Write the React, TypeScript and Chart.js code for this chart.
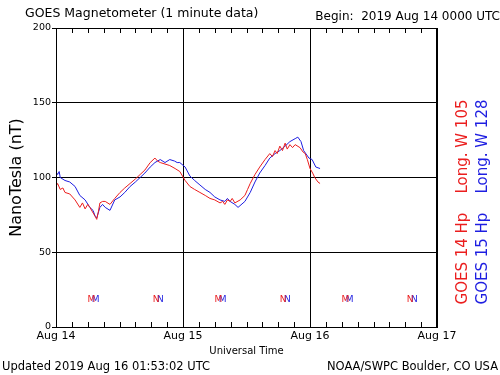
import React, { useEffect, useRef } from "react";
import { Chart, registerables } from "chart.js";

Chart.register(...registerables);

// ---- data ----
const dayLabels = ["Aug 14", "Aug 15", "Aug 16", "Aug 17"];
const yTicks = [0, 50, 100, 150, 200];

const g14Hours = [0, 0.3, 0.8, 1.3, 1.7, 2.6, 3.6, 4.5, 5.0, 5.5, 6.0, 6.4, 6.9, 7.4, 7.7, 8.0, 8.3, 8.8, 9.3, 10.2, 11.1, 12.1, 13.0, 14.0, 15.0, 15.9, 16.8, 17.8, 18.7, 19.2, 19.7, 20.6, 21.5, 22.5, 23.4, 24.4, 25.3, 26.2, 27.2, 28.2, 29.1, 30.0, 31.0, 31.5, 31.9, 32.4, 32.9, 33.3, 33.8, 34.8, 35.7, 36.2, 36.7, 37.6, 38.5, 39.5, 40.4, 40.9, 41.4, 41.8, 42.3, 42.8, 43.3, 43.7, 44.2, 44.7, 45.2, 46.1, 46.7, 47.1, 47.5, 48.0, 48.5, 48.9, 49.5, 49.9];
const g14Values = [94, 96, 92, 93, 90, 89, 85, 80, 83, 79, 82, 80, 77, 74, 72, 77, 83, 84, 84, 82, 86, 90, 93, 96, 99, 102, 105, 110, 113, 111, 110, 109, 108, 106, 104, 98, 94, 92, 90, 88, 86, 85, 83, 84, 82, 85, 84, 86, 83, 85, 88, 92, 96, 102, 107, 112, 116, 114, 118, 116, 121, 118, 123, 119, 122, 120, 122, 120, 117, 116, 112, 106, 103, 100, 97, 96];

const g15Hours = [0, 0.3, 0.6, 0.8, 1.7, 2.6, 3.6, 4.5, 5.5, 6.4, 7.0, 7.4, 7.7, 8.3, 8.8, 9.3, 10.2, 11.1, 12.1, 13.0, 14.0, 15.0, 15.9, 16.8, 17.8, 18.7, 19.7, 20.6, 21.5, 22.4, 22.9, 23.4, 24.4, 25.3, 26.2, 27.2, 28.2, 29.1, 30.0, 31.0, 31.9, 32.4, 32.9, 33.8, 34.4, 35.7, 36.7, 37.6, 38.5, 39.5, 40.4, 41.4, 42.3, 43.3, 44.2, 45.2, 45.7, 46.3, 46.8, 47.8, 48.4, 49.1, 49.9];
const g15Values = [104, 102, 104, 100, 98, 97, 94, 88, 85, 80, 78, 74, 73, 80, 82, 80, 78, 85, 87, 90, 94, 97, 100, 103, 107, 110, 112, 110, 112, 111, 110, 110, 107, 101, 98, 95, 92, 90, 87, 85, 84, 86, 84, 82, 80, 84, 90, 97, 103, 108, 113, 116, 118, 121, 124, 126, 127, 124, 118, 113, 112, 107, 106];

// local midnight (M) / noon (N) markers
const markerLevel = 18;
const g14Midnight = [6.7, 30.7, 54.7];
const g14Noon = [18.9, 42.9, 66.9];
const g15Midnight = [7.5, 31.5, 55.5];
const g15Noon = [19.7, 43.7, 67.7];

const RED = "rgb(235,30,30)";
const BLUE = "rgb(30,30,225)";
const FONT = "'DejaVu Sans', sans-serif";

const toPoints = (xs: number[], ys: number[]) => xs.map((x, i) => ({ x, y: ys[i] }));

const decorPlugin = {
  id: "decor",
  afterDraw(chart: any) {
    const { ctx, chartArea: a, scales } = chart;
    const xs = scales.x;
    const ys = scales.y;
    ctx.save();
    // frame
    ctx.strokeStyle = "#000";
    ctx.lineWidth = 1;
    ctx.strokeRect(a.left + 0.5, a.top + 0.5, a.right - a.left - 1, a.bottom - a.top);
    // minor ticks every 3 hours, inward, top and bottom
    ctx.beginPath();
    for (let h = 3; h < 72; h += 3) {
      const px = Math.round(xs.getPixelForValue(h)) + 0.5;
      ctx.moveTo(px, a.top);
      ctx.lineTo(px, a.top + 5);
      ctx.moveTo(px, a.bottom);
      ctx.lineTo(px, a.bottom - 5);
    }
    ctx.stroke();

    // markers
    ctx.font = `9px ${FONT}`;
    ctx.textAlign = "center";
    ctx.textBaseline = "middle";
    const my = ys.getPixelForValue(markerLevel);
    const put = (hs: number[], t: string, c: string) => {
      ctx.fillStyle = c;
      hs.forEach((h) => ctx.fillText(t, xs.getPixelForValue(h), my));
    };
    put(g15Midnight, "M", BLUE);
    put(g15Noon, "N", BLUE);
    put(g14Midnight, "M", RED);
    put(g14Noon, "N", RED);

    // texts
    ctx.fillStyle = "#000";
    ctx.textBaseline = "middle";
    ctx.textAlign = "left";
    ctx.font = `12.5px ${FONT}`;
    ctx.fillText("GOES Magnetometer (1 minute data)", 25, 14);
    ctx.textAlign = "right";
    ctx.font = `12px ${FONT}`;
    ctx.fillText("Begin:  2019 Aug 14 0000 UTC", 500, 17);
    ctx.font = `11.5px ${FONT}`;
    ctx.textAlign = "left";
    ctx.fillText("Updated 2019 Aug 16 01:53:02 UTC", 2, 367);
    ctx.textAlign = "right";
    ctx.fillText("NOAA/SWPC Boulder, CO USA", 498, 367);

    // rotated legend
    ctx.font = `15px ${FONT}`;
    ctx.textAlign = "center";
    const legend = (txt: string, x: number, c: string) => {
      ctx.save();
      ctx.translate(x, 202);
      ctx.rotate(-Math.PI / 2);
      ctx.fillStyle = c;
      ctx.fillText(txt, 0, 0);
      ctx.restore();
    };
    legend("GOES 14 Hp    Long. W 105", 463, RED);
    legend("GOES 15 Hp    Long. W 128", 483, BLUE);
    ctx.restore();
  },
};

export default function App() {
  const ref = useRef<HTMLCanvasElement | null>(null);
  useEffect(() => {
    if (!ref.current) return;
    const chart = new Chart(ref.current, {
      type: "line",
      data: {
        datasets: [
          {
            label: "GOES 14",
            data: toPoints(g14Hours, g14Values),
            borderColor: RED,
            borderWidth: 1,
            pointRadius: 0,
            tension: 0,
          },
          {
            label: "GOES 15",
            data: toPoints(g15Hours, g15Values),
            borderColor: BLUE,
            borderWidth: 1,
            pointRadius: 0,
            tension: 0,
          },
        ],
      },
      options: {
        animation: false,
        responsive: false,
        maintainAspectRatio: false,
        layout: { padding: { left: 0, top: 28, right: 63, bottom: 0 } },
        plugins: { legend: { display: false }, tooltip: { enabled: false } },
        scales: {
          x: {
            type: "linear",
            min: 0,
            max: 72,
            afterFit: (s: any) => {
              s.height = 48;
            },
            afterBuildTicks: (s: any) => {
              s.ticks = dayLabels.map((_, i) => ({ value: i * 24 }));
            },
            ticks: {
              padding: 3,
              maxRotation: 0,
              autoSkip: false,
              color: "#000",
              font: { family: FONT, size: 11 },
              callback: (v: any) => dayLabels[Math.round(Number(v) / 24)] ?? "",
            },
            grid: { color: "#000", drawTicks: false, lineWidth: 1 },
            border: { display: true, color: "#000" },
            title: {
              display: true,
              text: "Universal Time",
              color: "#000",
              font: { family: FONT, size: 10 },
              padding: { top: 0, bottom: 18 },
            },
          },
          y: {
            min: 0,
            max: 200,
            afterFit: (s: any) => {
              s.width = 56;
            },
            afterBuildTicks: (s: any) => {
              s.ticks = yTicks.map((v) => ({ value: v }));
            },
            ticks: {
              padding: 1,
              color: "#000",
              font: { family: FONT, size: 9.5 },
            },
            grid: { color: "#000", tickLength: 4, lineWidth: 1 },
            border: { display: true, color: "#000" },
            title: {
              display: true,
              text: "NanoTesla (nT)",
              color: "#000",
              font: { family: FONT, size: 16 },
              padding: { top: 7, bottom: 0 },
            },
          },
        },
      },
      plugins: [decorPlugin],
    });
    return () => chart.destroy();
  }, []);
  return (
    <div style={{ position: "fixed", left: 0, top: 0, width: 500, height: 375, background: "#fff" }}>
      <canvas ref={ref} width={500} height={375} style={{ width: 500, height: 375 }} />
    </div>
  );
}
